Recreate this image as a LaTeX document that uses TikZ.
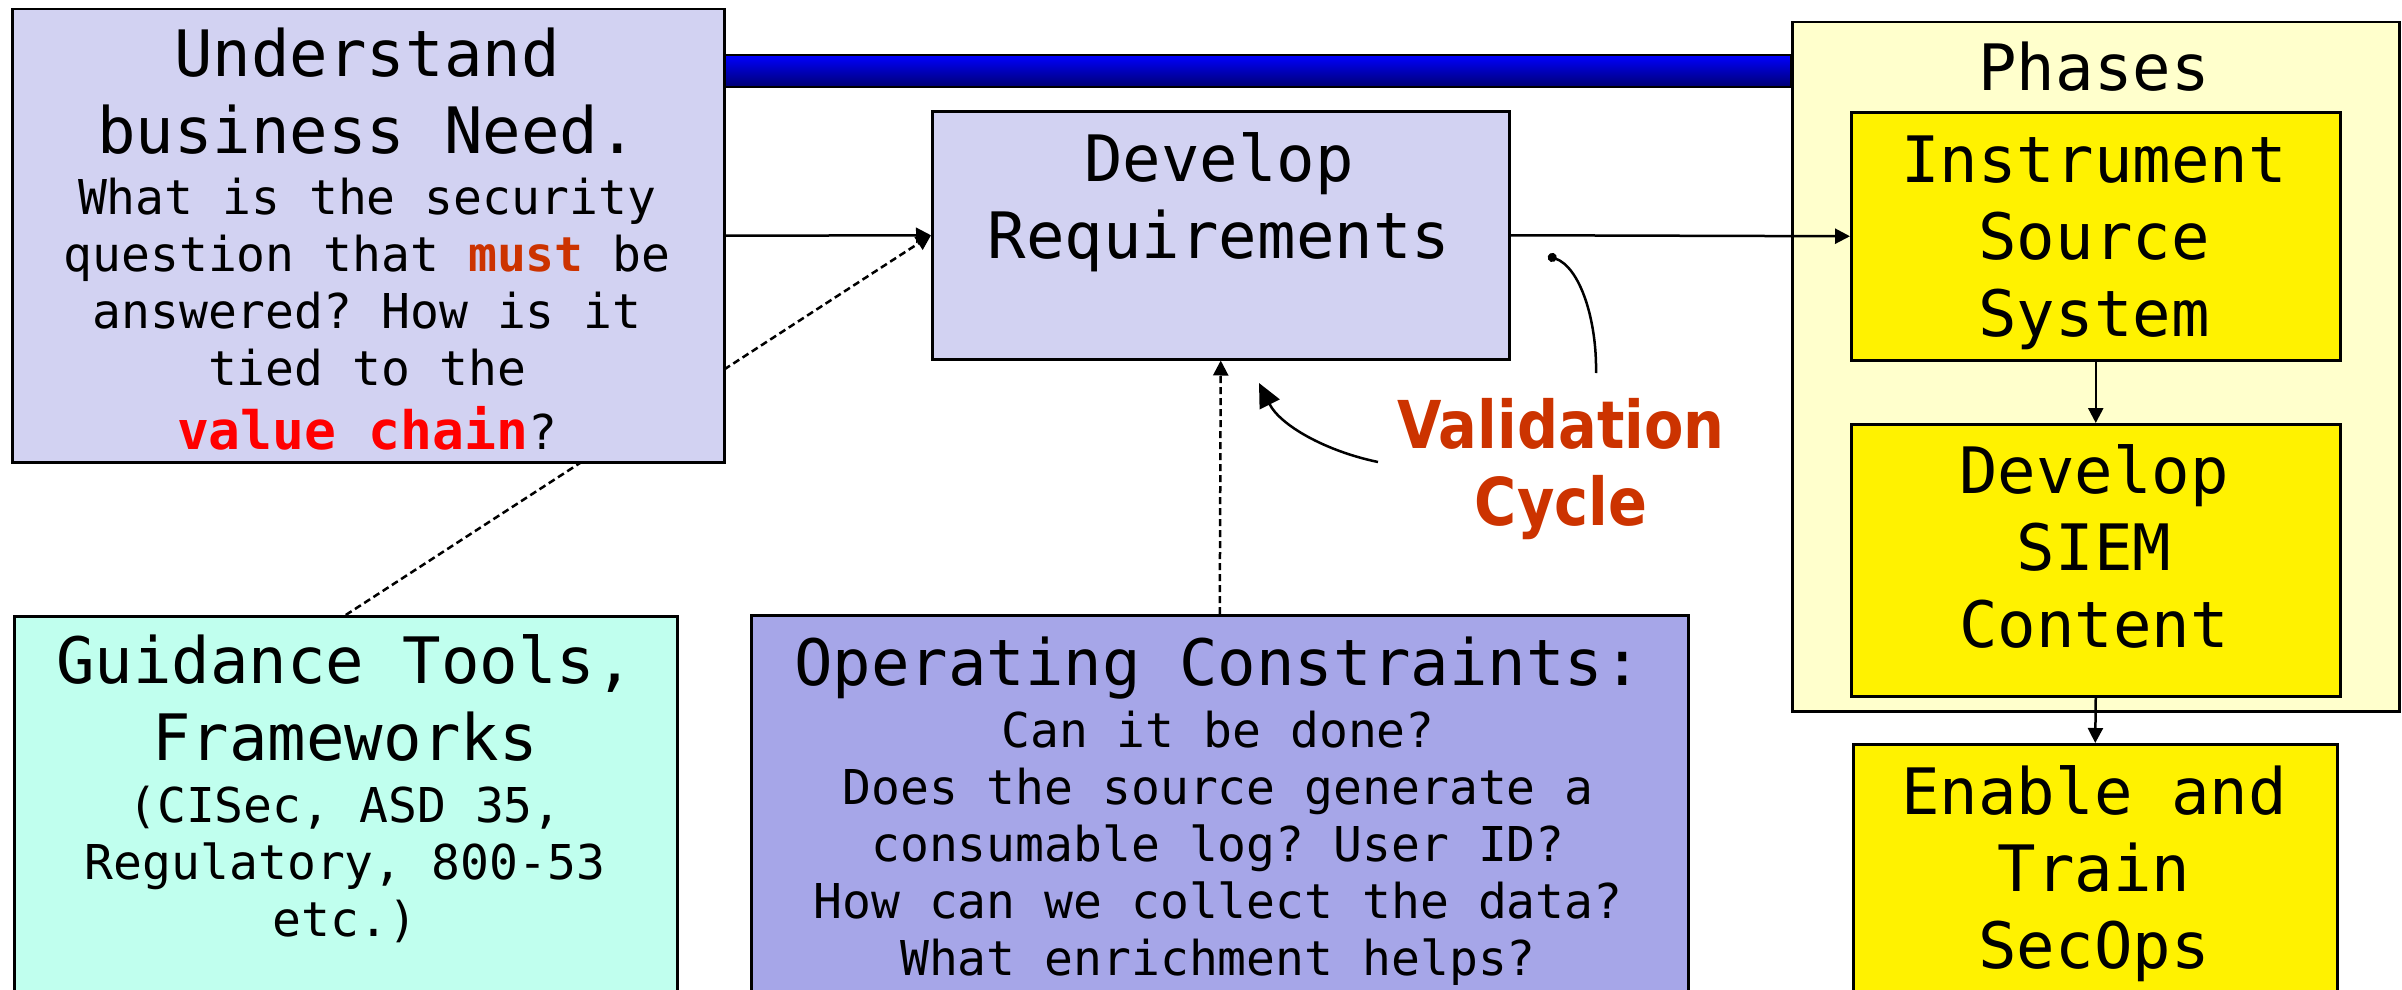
\documentclass[tikz,border=0pt]{standalone}
\usepackage{fontspec}
\usetikzlibrary{arrows.meta}
\newfontfamily\monofont{DejaVu Sans Mono}
\newfontfamily\valfont[FakeStretch=0.87]{DejaVu Sans}
\newcommand\monosize[2]{\monofont\fontsize{#1}{#2}\selectfont\spaceskip=0.602em\xspaceskip=0.602em\relax}
\newcommand\bigtxt{\monosize{64}{77}}
\newcommand\smalltxt{\monosize{48}{57}}
\definecolor{needfill}{HTML}{D2D2F2}
\definecolor{opsfill}{HTML}{A6A6E8}
\definecolor{guidefill}{HTML}{C0FFEE}
\definecolor{phasefill}{HTML}{FFFFCC}
\definecolor{rust}{HTML}{CC3300}

\begin{document}
\begin{tikzpicture}[x=1pt, y=-1pt, line width=2.5pt,
  box/.style={draw, rectangle, inner sep=0pt, anchor=north west},
  txt/.style={anchor=base, align=center, inner sep=0pt, text width=#1},
  link/.style={-{Triangle[length=15pt,width=15pt]}},
  hint/.style={link, dash pattern=on 7pt off 4pt}]
\useasboundingbox (0,0) rectangle (2402,990);
\clip (0,0) rectangle (2402,990);
\shade[draw, top color=blue, bottom color=blue!45!black] (723,55) rectangle (1791,87);
\node[box, fill=phasefill, minimum width=607, minimum height=689] (phases) at (1791,21) {};
\node[box, fill=yellow, minimum width=489, minimum height=248] (instr) at (1850,111) {};
\node[box, fill=yellow, minimum width=489, minimum height=272] (siem) at (1850,423) {};
\node[box, fill=yellow, minimum width=484, minimum height=300] (enable) at (1852,743) {};
\node[box, fill=guidefill, minimum width=663, minimum height=420] (guide) at (13,615) {};
\node[box, fill=opsfill, minimum width=937, minimum height=420] (ops) at (750,614) {};
\node[box, fill=needfill, minimum width=577, minimum height=248] (req) at (931,110) {};
\draw[hint] (guide.north) -- (req.west);
\node[box, fill=needfill, minimum width=712, minimum height=453] (need) at (11,8) {};
\draw[link] (need.east) -- (req.west);
\draw[link] (req.east) -- (instr.west);
\draw[link] (instr.south) -- (siem.north);
\draw[link] (siem.south) -- (enable.north);
\draw[hint] (ops.north) -- (req.south);
\coordinate (loopA) at (1548,256);
\coordinate (loopB) at (1596,373);
\coordinate (loopC) at (1378,462);
\coordinate (loopD) at (1259,383);
\draw[{Circle[length=9pt]}-] (loopA) .. controls +(32,11) and +(1,-53) .. (loopB);
\draw[-{Triangle[length=24pt,width=22pt]}] (loopC) .. controls +(-53,-11) and +(21,42) .. (loopD);
\node[txt=690] (needtxt) at (367,77) {{\bigtxt Understand\\ business Need.\par}\vskip4pt
  {\smalltxt What is the security\\ question that \textcolor{rust}{\bfseries must} be\\ answered? How is it\\ tied to the\\[7pt]
  {\monosize{53}{64}\bfseries\color{red}value chain}?\par}};
\node[txt=560] (reqtxt) at (1219,181) {\bigtxt Develop\\ Requirements\par};
\node[txt=590] (phasetxt) at (2094,91) {\bigtxt Phases\par};
\node[txt=480] (instrtxt) at (2094,182) {\bigtxt Instrument\\ Source\\ System\par};
\node[txt=480] (siemtxt) at (2094,493) {\bigtxt Develop\\ SIEM\\ Content\par};
\node[txt=480] (enabletxt) at (2094,814) {\bigtxt Enable and\\ Train\\ SecOps\par};
\node[txt=650] (guidetxt) at (345,683) {{\bigtxt Guidance Tools,\\ Frameworks\par}\vskip5pt
  {\smalltxt (CISec, ASD 35,\\ Regulatory, 800-53\\ etc.)\par}};
\node[txt=920] (opstxt) at (1218,685) {{\bigtxt Operating Constraints:\par}\vskip5pt
  {\smalltxt Can it be done?\\ Does the source generate a\\ consumable log? User ID?\\ How can we collect the data?\\ What enrichment helps?\par}};
\node[txt=400, text=rust] (valtxt) at (1561,448) {\valfont\bfseries\fontsize{66}{77}\selectfont Validation\\ Cycle\par};
\end{tikzpicture}
\end{document}
